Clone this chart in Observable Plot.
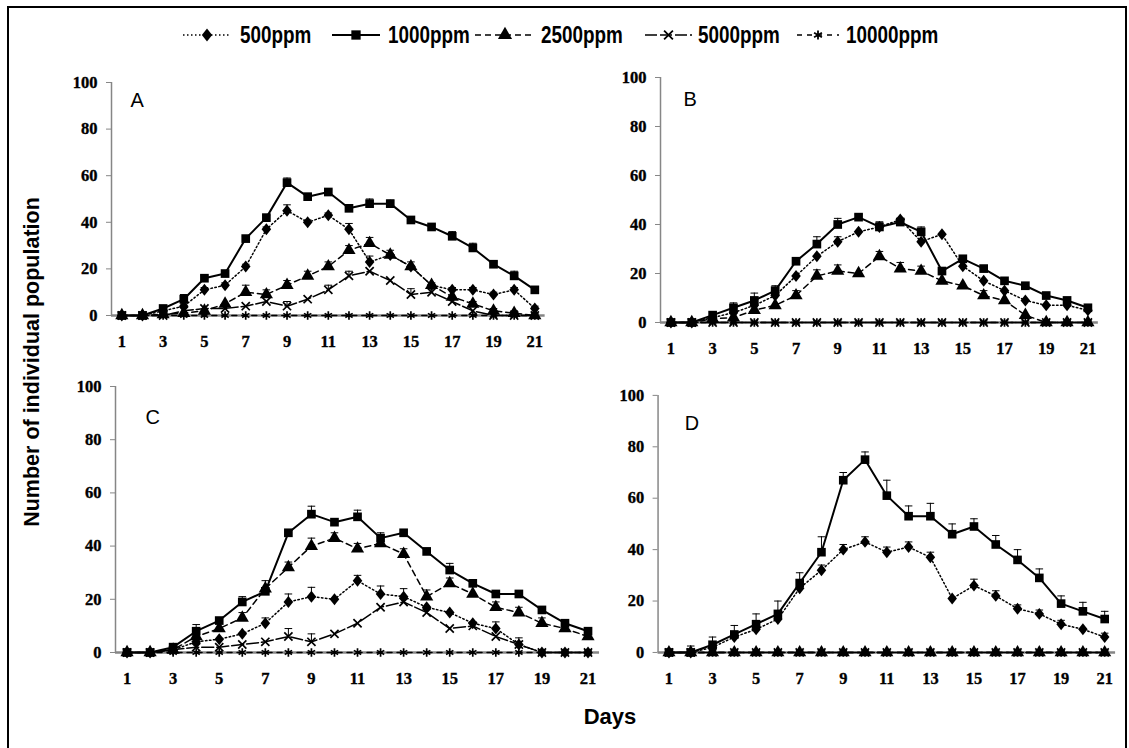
<!DOCTYPE html>
<html><head><meta charset="utf-8">
<script src="https://cdn.jsdelivr.net/npm/d3@7"></script>
<script src="https://cdn.jsdelivr.net/npm/@observablehq/plot@0.6"></script>
<style>
body{margin:0;background:#fff;}
#wrap{position:relative;width:1129px;height:748px;overflow:hidden;background:#fff;}
#frame{position:absolute;left:7px;top:6px;width:1120px;height:760px;border:2px solid #000;box-sizing:border-box;}
.abs{position:absolute;}
.legsample{position:absolute;top:24px;}
.legtext{position:absolute;top:22px;height:26px;line-height:26px;white-space:nowrap;font-family:"Liberation Sans",Arial,sans-serif;font-weight:bold;font-size:23px;color:#000;transform:scaleX(0.82);transform-origin:left center;}
.panel svg g[aria-label$="tick label"] text{font-family:"Liberation Serif","Times New Roman",serif;font-weight:bold;font-size:16.5px;stroke:#000;stroke-width:0.35px;}
#ytitle{position:absolute;left:32px;top:362px;transform:translate(-50%,-50%) rotate(-90deg);white-space:nowrap;font-family:"Liberation Sans",Arial,sans-serif;font-weight:bold;font-size:21.5px;color:#000;}
#xtitle{position:absolute;left:610px;top:717px;transform:translate(-50%,-50%);font-family:"Liberation Sans",Arial,sans-serif;font-weight:bold;font-size:22px;color:#000;}
</style></head>
<body>
<div id="wrap"><div id="frame"></div>
<div id="ytitle">Number of individual population</div>
<div id="xtitle">Days</div>
</div>
<script>
// ---------- data ----------
const days = [1,2,3,4,5,6,7,8,9,10,11,12,13,14,15,16,17,18,19,20,21];
const xTicks = [1,3,5,7,9,11,13,15,17,19,21];
const yTicks = [0,20,40,60,80,100];
const seriesNames = ["500ppm","1000ppm","2500ppm","5000ppm","10000ppm"];
const panelLetters = ["A","B","C","D"];

const A_500   = [0,0,2,4,11,13,21,37,45,40,43,37,23,26,21,13,11,11,9,11,3];
const A_1000  = [0,0,3,7,16,18,33,42,57,51,53,46,48,48,41,38,34,29,22,17,11];
const A_2500  = [0,0,0.5,1,2,5,10,9,13,17,21,28,31,26,21,13,8,5,2,1,0];
const A_5000  = [0,0,0,2,3,3,4,6,4,7,11,17,19,15,9,10,6,2,0,0,0];
const A_10000 = [0,0,0,0,0,0,0,0,0,0,0,0,0,0,0,0,0,0,0,0,0];
const A_500_err  = [0,0,1,1,1,1,1,1,2.5,1,1,2.5,2.5,2,2,1,1,1,1,1,1];
const A_1000_err = [0,0,1,2,1,1,1,1,2,1,1,1,2,1.5,1,1,2,2,1,2,1];
const A_2500_err = [0,0,0,0,0,0,3,2,2,2,2,2,2.5,0,0,0,0,1,1,1,0];
const A_5000_err = [0,0,0,0,0,0,0,0,2,0,2,2,0,0,2.5,0,0,0,0,0,0];

const B_500   = [0,0,2,4,7,11,19,27,33,37,39,42,33,36,23,17,13,9,7,7,5];
const B_1000  = [0,0,3,6,9,13,25,32,40,43,39,41,37,21,26,22,17,15,11,9,6];
const B_2500  = [0,0,1.5,2,5,7,11,19,21,20,27,22,21,17,15,11,9,3,0,0,0];
const B_5000  = [0,0,0,0,0,0,0,0,0,0,0,0,0,0,0,0,0,0,0,0,0];
const B_10000 = [0,0,0,0,0,0,0,0,0,0,0,0,0,0,0,0,0,0,0,0,0];
const B_500_err  = [0,0,0,0,0,0,0,0,2,0,2,0,0,0,0,0,0,0,0,0,0];
const B_1000_err = [0,0,0,2,3,2,0,3,2.5,1,2,1,2,0,0,0,0,0,0,0,0];
const B_2500_err = [0,0,0,0,0,0,2,2.5,2.5,0,2,2.5,2,0,0,2,0,0,0,0,0];

const C_500   = [0,0,1,4,5,7,11,19,21,20,27,22,21,17,15,11,9,3,0,0,0];
const C_1000  = [0,0,2,8,12,19,23,45,52,49,51,43,45,38,31,26,22,22,16,11,8];
const C_2500  = [0,0,1,6,9,13,24,32,40,43,39,41,37,21,26,22,17,15,11,9,6];
const C_5000  = [0,0,1,2,2,3,4,6,4,7,11,17,19,15,9,10,6,3,0,0,0];
const C_10000 = [0,0,0,0,0,0,0,0,0,0,0,0,0,0,0,0,0,0,0,0,0];
const C_500_err  = [0,0,0,0,0,0,2,3,3.5,0,2,3,3,0,0,0,2.5,2.5,0,0,0];
const C_1000_err = [0,0,0,2.5,0,2,4,0,3,0,2.5,2,0,0,2.5,0,0,0,0,0,0];
const C_2500_err = [0,0,2,0,0,2,0,2,3,2,2,0,2,2.5,2,0,2,2,2,0,0];
const C_5000_err = [0,0,0,0,0,0,0,3,3,0,0,0,0,0,0,0,0,0,0,0,0];

const D_500   = [0,0,2,6,9,13,25,32,40,43,39,41,37,21,26,22,17,15,11,9,6];
const D_1000  = [0,0,3,7,11,15,27,39,67,75,61,53,53,46,49,42,36,29,19,16,13];
const D_2500  = [0,0,0,0,0,0,0,0,0,0,0,0,0,0,0,0,0,0,0,0,0];
const D_5000  = [0,0,0,0,0,0,0,0,0,0,0,0,0,0,0,0,0,0,0,0,0];
const D_10000 = [0,0,0,0,0,0,0,0,0,0,0,0,0,0,0,0,0,0,0,0,0];
const D_500_err  = [0,0,0,0,0,0,0,2,2,2,2,2,2,0,2.5,2,1.5,1.5,1.5,0,1.5];
const D_1000_err = [0,2.5,3,3.5,4,5,4,6,3,3,6,4,5,4,3,3.5,4,3.5,3,3.5,3];

const zeros = days.map(() => 0);
const panelValues = {
  A: [A_500, A_1000, A_2500, A_5000, A_10000],
  B: [B_500, B_1000, B_2500, B_5000, B_10000],
  C: [C_500, C_1000, C_2500, C_5000, C_10000],
  D: [D_500, D_1000, D_2500, D_5000, D_10000]
};
const panelErrors = {
  A: [A_500_err, A_1000_err, A_2500_err, A_5000_err, zeros],
  B: [B_500_err, B_1000_err, B_2500_err, zeros, zeros],
  C: [C_500_err, C_1000_err, C_2500_err, C_5000_err, zeros],
  D: [D_500_err, D_1000_err, zeros, zeros, zeros]
};

// ---------- styles / layout ----------
const diamondSymbol = {draw(ctx, size){ const r = Math.sqrt(size/Math.PI); const w = r, h = r*1.25;
  ctx.moveTo(0,-h); ctx.lineTo(w,0); ctx.lineTo(0,h); ctx.lineTo(-w,0); ctx.closePath(); }};
const capSymbol = {draw(ctx, size){ const r = Math.sqrt(size/Math.PI); ctx.moveTo(-r,0); ctx.lineTo(r,0);} };
const seriesStyle = [
  {dash:"1.5,2.5", width:1.5, symbol:diamondSymbol, r:4.8, filled:true},
  {dash:null,      width:2,   symbol:"square",      r:4.9, filled:true},
  {dash:"6,4",     width:1.5, symbol:"triangle",    r:4.9, filled:true},
  {dash:"12,3",    width:1.5, symbol:"times",       r:3.8, filled:false},
  {dash:"5,5",     width:1.5, symbol:"asterisk",    r:4,   filled:false}
];
const layout = {
  A: {d1:121, d21:534,  y100:82,  y0:315, lx:19, ly:10},
  B: {d1:670, d21:1087, y100:77,  y0:322, lx:23, ly:14},
  C: {d1:127, d21:588,  y100:386, y0:652, lx:30, ly:23},
  D: {d1:669, d21:1108, y100:395, y0:654, lx:27, ly:21}
};
const gray = "#868686";
const wrap = document.getElementById("wrap");

panelLetters.forEach(key => {
  const g = layout[key];
  const sp = (g.d21 - g.d1) / 20;
  const xr0 = g.d1 - sp*0.5, xr1 = g.d21 + sp*0.5;
  const mL = 60, mT = 15, mR = 14, mB = 45;
  const width = (xr1 - xr0) + mL + mR;
  const height = (g.y0 - g.y100) + mT + mB;

  const marks = [
    Plot.ruleX([0.5], {stroke: gray, strokeWidth: 1.5}),
    Plot.axisY(yTicks, {tickSize: 5, tickPadding: 9, stroke: gray, fill: "#000", label: null}),
    Plot.axisX(xTicks, {tickSize: 0, tickPadding: 20, fill: "#000", label: null}),
    Plot.ruleY([0], {stroke: gray, strokeWidth: 2.5})
  ];
  const vals = panelValues[key], errs = panelErrors[key];
  for (let s = seriesNames.length - 1; s >= 0; s--) {
    const st = seriesStyle[s];
    const rows = days.map((d, i) => ({day: d, v: vals[s][i], e: errs[s][i]}));
    const erows = rows.filter(r => r.e > 0);
    marks.push(Plot.line(rows, {x: "day", y: "v", stroke: "#000", strokeWidth: st.width, strokeDasharray: st.dash || undefined}));
    marks.push(Plot.ruleX(erows, {x: "day", y1: "v", y2: d => d.v + d.e, stroke: "#000", strokeWidth: 1}));
    marks.push(Plot.dot(erows, {x: "day", y: d => d.v + d.e, symbol: capSymbol, r: 3.8, stroke: "#000", strokeWidth: 1, fill: "none"}));
    marks.push(Plot.dot(rows, st.filled
      ? {x: "day", y: "v", symbol: st.symbol, r: st.r, fill: "#000", stroke: "none"}
      : {x: "day", y: "v", symbol: st.symbol, r: st.r, fill: "none", stroke: "#000", strokeWidth: 1.7}));
  }
  marks.push(Plot.text([key], {frameAnchor: "top-left", text: d => d, dx: g.lx, dy: g.ly,
    textAnchor: "start", lineAnchor: "top", fontSize: 20, fontFamily: "Liberation Sans, Arial, sans-serif", fill: "#000"}));

  const svg = Plot.plot({
    width, height, marginLeft: mL, marginRight: mR, marginTop: mT, marginBottom: mB,
    x: {domain: [0.5, 21.5]},
    y: {domain: [0, 100]},
    style: {background: "transparent", overflow: "visible"},
    marks
  });
  const div = document.createElement("div");
  div.className = "abs panel";
  div.style.left = (xr0 - mL) + "px";
  div.style.top = (g.y100 - mT) + "px";
  div.appendChild(svg);
  wrap.appendChild(div);
});

// ---------- legend ----------
const legendPos = [
  {x:183, w:48, tx:240}, {x:332, w:48, tx:388}, {x:475, w:60, tx:541}, {x:645, w:47, tx:698}, {x:797, w:42, tx:846}
];
const symMap = {square: d3.symbolSquare, triangle: d3.symbolTriangle, times: d3.symbolTimes || d3.symbolX, asterisk: d3.symbolAsterisk};
seriesNames.forEach((name, s) => {
  const st = seriesStyle[s], p = legendPos[s];
  const svg = d3.create("svg").attr("class", "legsample").attr("width", p.w).attr("height", 22)
    .style("left", p.x + "px");
  svg.append("line").attr("x1", 0).attr("x2", p.w).attr("y1", 11).attr("y2", 11)
    .attr("stroke", "#000").attr("stroke-width", st.width).attr("stroke-dasharray", st.dash);
  const size = Math.PI * st.r * st.r * 1.15;
  const symType = typeof st.symbol === "string" ? symMap[st.symbol] : st.symbol;
  svg.append("path").attr("transform", `translate(${p.w/2},11)`)
    .attr("d", d3.symbol(symType, size)())
    .attr("fill", st.filled ? "#000" : "none").attr("stroke", st.filled ? "none" : "#000").attr("stroke-width", 1.8);
  wrap.appendChild(svg.node());
  const t = document.createElement("div");
  t.className = "legtext";
  t.style.left = p.tx + "px";
  t.textContent = name;
  wrap.appendChild(t);
});
</script>
</body></html>
